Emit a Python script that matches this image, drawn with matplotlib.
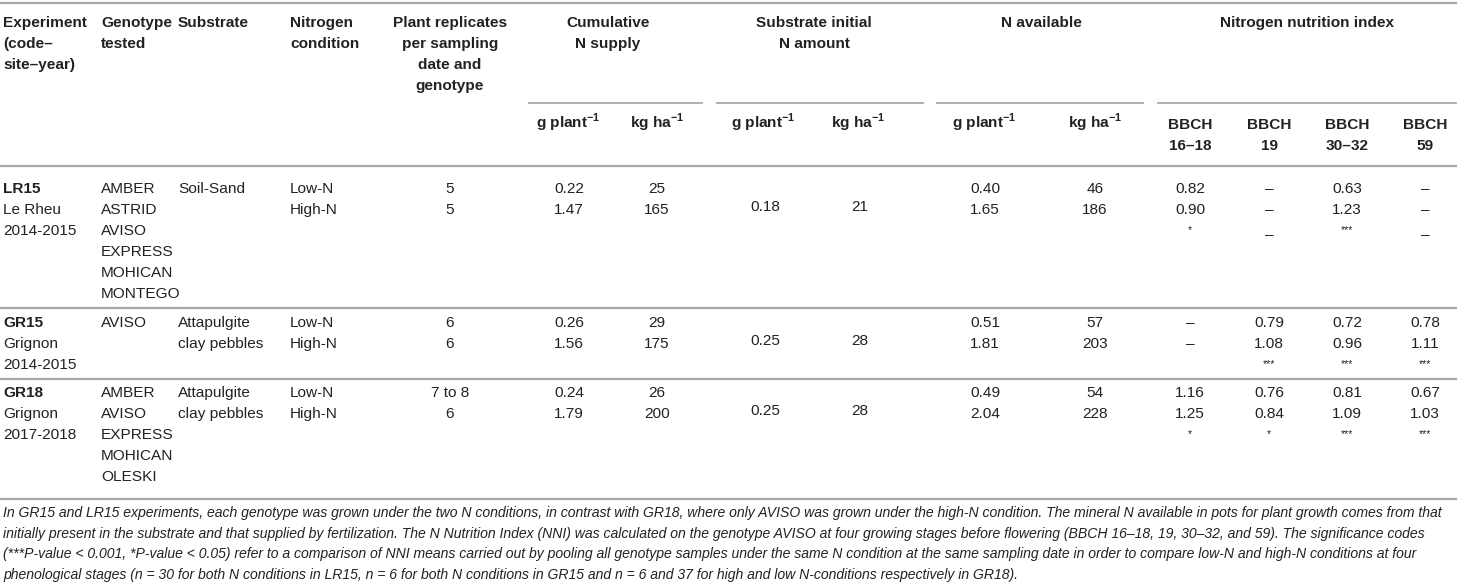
import matplotlib
matplotlib.use("Agg")
import matplotlib.pyplot as plt

plt.rcParams['font.family'] = ['Liberation Sans', 'DejaVu Sans']
plt.rcParams['mathtext.fontset'] = 'custom'
plt.rcParams['mathtext.rm'] = 'Liberation Sans'
plt.rcParams['mathtext.bf'] = 'Liberation Sans:bold'

# table content
experiments = ["LR15", "GR15", "GR18"]
sites = ["Le Rheu", "Grignon", "Grignon"]
years = ["2014-2015", "2014-2015", "2017-2018"]
genotypes = [["AMBER", "ASTRID", "AVISO", "EXPRESS", "MOHICAN", "MONTEGO"],
             ["AVISO"],
             ["AMBER", "AVISO", "EXPRESS", "MOHICAN", "OLESKI"]]
substrates = [["Soil-Sand"], ["Attapulgite", "clay pebbles"], ["Attapulgite", "clay pebbles"]]
n_conditions = ["Low-N", "High-N"]
replicates = [["5", "5"], ["6", "6"], ["7 to 8", "6"]]
cum_g = [["0.22", "1.47"], ["0.26", "1.56"], ["0.24", "1.79"]]
cum_kg = [["25", "165"], ["29", "175"], ["26", "200"]]
init_g = ["0.18", "0.25", "0.25"]
init_kg = ["21", "28", "28"]
avail_g = [["0.40", "1.65"], ["0.51", "1.81"], ["0.49", "2.04"]]
avail_kg = [["46", "186"], ["57", "203"], ["54", "228"]]
nni_stages = ["16–18", "19", "30–32", "59"]
nni_low = [["0.82", "–", "0.63", "–"], ["–", "0.79", "0.72", "0.78"], ["1.16", "0.76", "0.81", "0.67"]]
nni_high = [["0.90", "–", "1.23", "–"], ["–", "1.08", "0.96", "1.11"], ["1.25", "0.84", "1.09", "1.03"]]
nni_sig = [["*", "–", "***", "–"], ["", "***", "***", "***"], ["*", "*", "***", "***"]]

footnote = [
    "In GR15 and LR15 experiments, each genotype was grown under the two N conditions, in contrast with GR18, where only AVISO was grown under the high-N condition. The mineral N available in pots for plant growth comes from that",
    "initially present in the substrate and that supplied by fertilization. The N Nutrition Index (NNI) was calculated on the genotype AVISO at four growing stages before flowering (BBCH 16–18, 19, 30–32, and 59). The significance codes",
    "(***P-value < 0.001, *P-value < 0.05) refer to a comparison of NNI means carried out by pooling all genotype samples under the same N condition at the same sampling date in order to compare low-N and high-N conditions at four",
    "phenological stages (n = 30 for both N conditions in LR15, n = 6 for both N conditions in GR15 and n = 6 and 37 for high and low N-conditions respectively in GR18).",
]

fig = plt.figure(figsize=(14.59, 5.87), dpi=100)
ax = fig.add_axes([0, 0, 1, 1])
ax.set_xlim(0, 1459)
ax.set_ylim(587, 0)
ax.axis("off")

fs = 11.1
txt = "#222222"
rule = "#a9a9a9"
step = 21


def put(x, y, s, ha="left", bold=False, size=fs, **kw):
    ax.text(x, y, s, ha=ha, va="center", fontsize=size, color=txt,
            fontweight="bold" if bold else "normal", **kw)


def lines(x, y, items, ha="left", bold=False):
    for i, s in enumerate(items):
        put(x, y + i * step, s, ha=ha, bold=bold)


# header
hy = 23
lines(3, hy, ["Experiment", "(code–", "site–year)"], bold=True)
lines(101, hy, ["Genotype", "tested"], bold=True)
lines(178, hy, ["Substrate"], bold=True)
lines(290, hy, ["Nitrogen", "condition"], bold=True)
lines(450, hy, ["Plant replicates", "per sampling", "date and", "genotype"], ha="center", bold=True)
lines(608, hy, ["Cumulative", "N supply"], ha="center", bold=True)
lines(814, hy, ["Substrate initial", "N amount"], ha="center", bold=True)
lines(1041, hy, ["N available"], ha="center", bold=True)
lines(1307, hy, ["Nitrogen nutrition index"], ha="center", bold=True)

for x0, x1 in [(529, 702), (717, 923), (937, 1143), (1158, 1456)]:
    ax.plot([x0, x1], [103, 103], color=rule, lw=1.3)

gp = r"g plant$^{\mathbf{-1}}$"
kh = r"kg ha$^{\mathbf{-1}}$"
unit_x = [568, 657, 763, 858, 984, 1095]
for i, x in enumerate(unit_x):
    put(x, 123, gp if i % 2 == 0 else kh, ha="center", bold=True)

nni_x = [1190, 1269, 1347, 1425]
for x, st in zip(nni_x, nni_stages):
    lines(x, 125, ["BBCH", st], ha="center", bold=True)

# rules
for y in [3, 166, 308, 379, 499]:
    ax.plot([0, 1456], [y, y], color=rule, lw=1.6)

# body
row_y = [189, 323, 393]
for k in range(3):
    y0 = row_y[k]
    put(3, y0, experiments[k], bold=True)
    put(3, y0 + step, sites[k])
    put(3, y0 + 2 * step, years[k])
    lines(101, y0, genotypes[k])
    lines(178, y0, substrates[k])
    lines(290, y0, n_conditions)
    lines(450, y0, replicates[k], ha="center")
    lines(569, y0, cum_g[k], ha="center")
    lines(657, y0, cum_kg[k], ha="center")
    put(765, y0 + 18, init_g[k], ha="center")
    put(860, y0 + 18, init_kg[k], ha="center")
    lines(985, y0, avail_g[k], ha="center")
    lines(1095, y0, avail_kg[k], ha="center")
    for j, x in enumerate(nni_x):
        put(x, y0, nni_low[k][j], ha="center")
        put(x, y0 + step, nni_high[k][j], ha="center")
        s = nni_sig[k][j]
        if s == "–":
            put(x, y0 + 2 * step + 4, s, ha="center")
        elif s:
            put(x, y0 + 2 * step - 1, s, ha="center", size=7.5)

# footnote
for i, s in enumerate(footnote):
    put(3, 513 + i * 20.7, s, style="italic", size=10.08)

fig.savefig("out.png", dpi=100)
